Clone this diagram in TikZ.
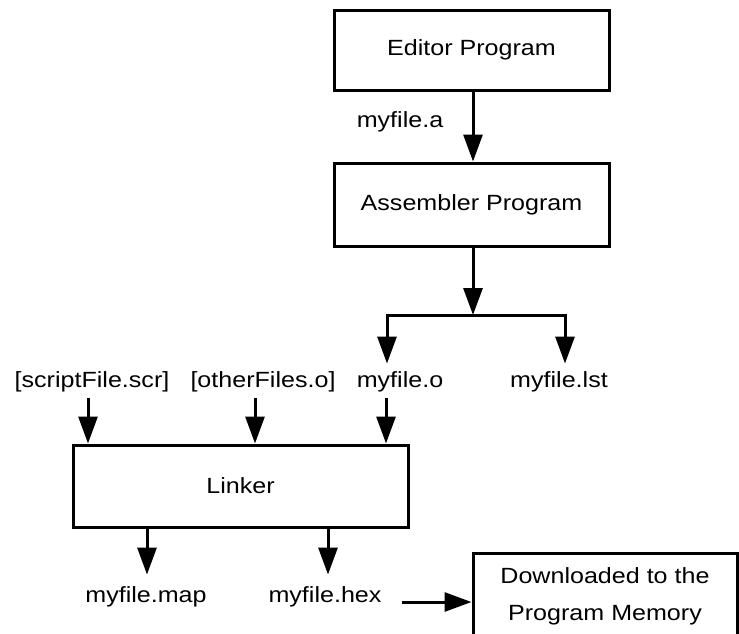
\documentclass[tikz,border=0pt]{standalone}
\usepackage{fontspec}
\setmainfont{Liberation Sans}[FakeStretch=1.14]
\usetikzlibrary{arrows.meta}
\begin{document}
\begin{tikzpicture}[x=1pt,y=-1pt,
  every node/.style={font=\fontsize{22pt}{37pt}\selectfont},
  procbox/.style={draw,line width=3pt,inner sep=0pt,align=center},
  lbl/.style={inner sep=2pt},
  arr/.style={line width=3pt,-{Triangle[length=27pt,width=19pt]}},
  ln/.style={line width=3pt}]
\useasboundingbox (0,0) rectangle (739,633);

% processing steps
\node[procbox,minimum width=275pt,minimum height=80pt] (editor) at (471.5,50) {Editor Program};
\node[procbox,minimum width=275pt,minimum height=83pt] (asm) at (471.5,204.5) {Assembler Program};
\node[procbox,minimum width=335pt,minimum height=82pt] (linker) at (240.5,486) {Linker};
\node[procbox,minimum width=264pt,minimum height=87pt] (dl) at (605,596.5) {Downloaded to the\\Program Memory};

% file names
\node[lbl] (mfa) at (400,122) {myfile.a};
\node[lbl] (scr) at (92,382) {[scriptFile.scr]};
\node[lbl] (oth) at (263,382) {[otherFiles.o]};
\node[lbl] (mfo) at (400,382) {myfile.o};
\node[lbl] (lst) at (559,382) {myfile.lst};
\node[lbl] (map) at (146,597) {myfile.map};
\node[lbl] (hex) at (325,597) {myfile.hex};

% column positions of the connectors
\coordinate (split) at (473,315);
\coordinate (bo) at (387,315);
\coordinate (bl) at (565,315);
\coordinate (c1) at (88,0);
\coordinate (c2) at (255,0);
\coordinate (c3) at (386,0);
\coordinate (c4) at (147,0);
\coordinate (c5) at (328,0);

% editor -> assembler
\draw[arr] (editor.south -| split) -- (split |- asm.north);
% assembler -> branch
\draw[arr] (asm.south -| split) -- (split);
\draw[ln] (bo) -- (bl);
\draw[arr] ([yshift=1.5pt]bo) -- ([yshift=6pt]bo |- mfo.north);
\draw[arr] ([yshift=1.5pt]bl) -- ([yshift=6pt]bl |- lst.north);

% inputs of the linker
\draw[arr] ([yshift=-4pt]scr.south -| c1) -- (c1 |- linker.north);
\draw[arr] ([yshift=-4pt]oth.south -| c2) -- (c2 |- linker.north);
\draw[arr] ([yshift=-4pt]mfo.south -| c3) -- (c3 |- linker.north);

% outputs of the linker
\draw[arr] (linker.south -| c4) -- ([yshift=10pt]c4 |- map.north);
\draw[arr] (linker.south -| c5) -- ([yshift=10pt]c5 |- hex.north);

% hex file -> program memory
\draw[arr] ([xshift=18pt,yshift=-5pt]hex.east) -- ([yshift=-5pt]hex.east -| dl.west);
\end{tikzpicture}
\end{document}
